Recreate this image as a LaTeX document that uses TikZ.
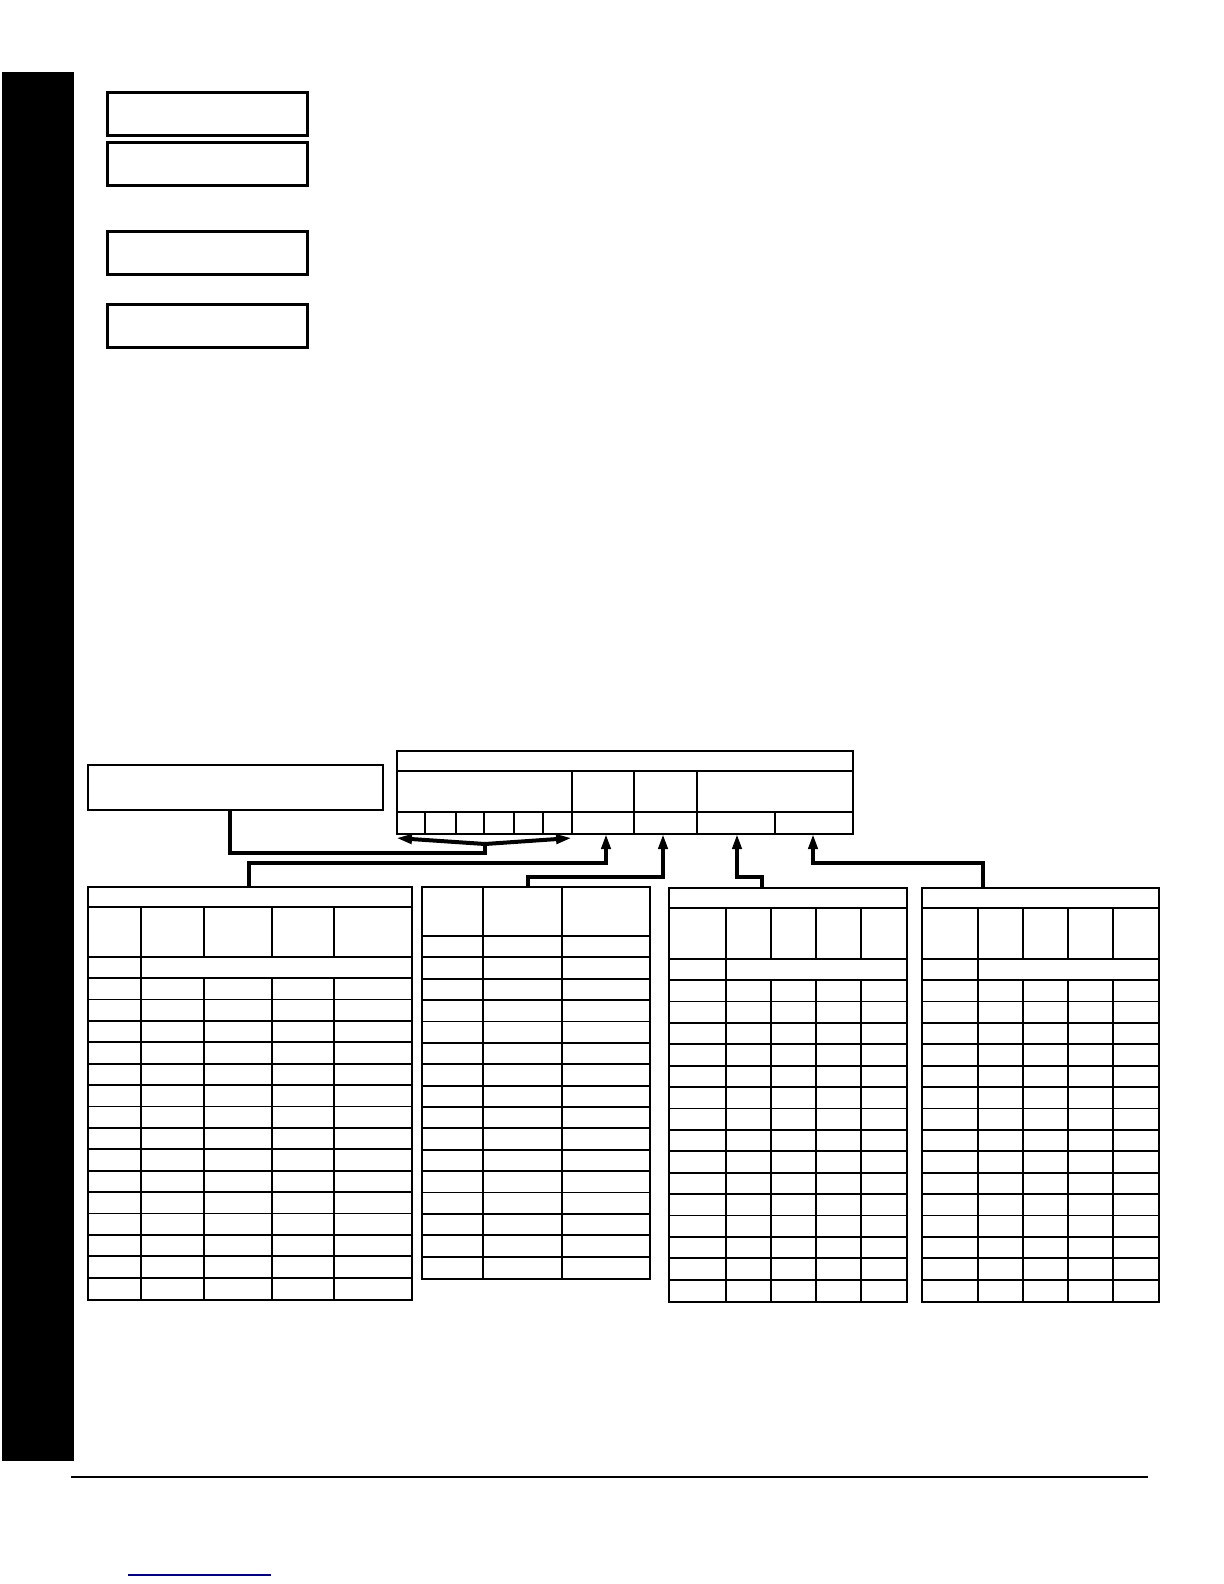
\documentclass[tikz,border=0pt]{standalone}
\usetikzlibrary{arrows.meta}
\begin{document}
\begin{tikzpicture}[x=0.5pt,y=-0.5pt,
  framebox/.style={draw,line width=1.3pt,inner sep=0pt,anchor=north west},
  tbl/.style={draw,line width=0.9pt,inner sep=0pt,anchor=north west},
  grid/.style={line width=0.9pt},
  conn/.style={line width=2pt,line join=miter},
  tip/.style={-{Triangle[length=7.5pt,width=4.5pt]}}]
\useasboundingbox[fill=white] (0,0) rectangle (1224,1584);
% side bar
\fill[black] (2,72) rectangle (74,1461);
% top boxes
\node[framebox,minimum width=100pt,minimum height=21.5pt] (b1) at (106,91) {};
\node[framebox,minimum width=100pt,minimum height=21.5pt] (b2) at (106,141) {};
\node[framebox,minimum width=100pt,minimum height=21.5pt] (b3) at (106,230) {};
\node[framebox,minimum width=100pt,minimum height=21.5pt] (b4) at (106,303) {};
% left box
\node[tbl,minimum width=147.5pt,minimum height=22.5pt] (lb) at (87,764) {};
% top table
\node[tbl,line width=0.8pt,minimum width=228pt,minimum height=41.5pt] (tt) at (396,750) {};
\draw[grid,line width=0.8pt] (396,771) -- (852,771) (396,812) -- (852,812);
\foreach \x in {572,634,697} \draw[grid,line width=0.8pt] (\x,771) -- (\x,833);
\foreach \x in {425,456,484,514,543,775} \draw[grid,line width=0.8pt] (\x,812) -- (\x,833);
% table 1
\node[tbl,minimum width=162pt,minimum height=206.5pt] (t1) at (87,886) {};
\foreach \y in {907,957,978} \draw[grid] (87,\y) -- (411,\y);
\foreach \i in {1,...,14} \draw[grid] (87,978+\i*21.4) -- (411,978+\i*21.4);
\draw[grid] (141,907) -- (141,1299);
\foreach \x in {204,272,334} {\draw[grid] (\x,907) -- (\x,957); \draw[grid] (\x,978) -- (\x,1299);}
% table 2
\node[tbl,minimum width=114pt,minimum height=196pt] (t2) at (421,886) {};
\draw[grid] (421,936) -- (649,936);
\foreach \i in {1,...,15} \draw[grid] (421,936+\i*21.375) -- (649,936+\i*21.375);
\foreach \x in {483,562} \draw[grid] (\x,886) -- (\x,1278);
% table 3
\node[tbl,minimum width=119pt,minimum height=207pt] (t3) at (668,887) {};
\foreach \y in {908,959,980} \draw[grid] (668,\y) -- (906,\y);
\foreach \i in {1,...,14} \draw[grid] (668,980+\i*21.4) -- (906,980+\i*21.4);
\draw[grid] (726,908) -- (726,1301);
\foreach \x in {771,816,861} {\draw[grid] (\x,908) -- (\x,959); \draw[grid] (\x,980) -- (\x,1301);}
% table 4
\node[tbl,minimum width=118.5pt,minimum height=207pt] (t4) at (921,887) {};
\foreach \y in {908,959,980} \draw[grid] (921,\y) -- (1158,\y);
\foreach \i in {1,...,14} \draw[grid] (921,980+\i*21.4) -- (1158,980+\i*21.4);
\draw[grid] (978,908) -- (978,1301);
\foreach \x in {1023,1068,1113} {\draw[grid] (\x,908) -- (\x,959); \draw[grid] (\x,980) -- (\x,1301);}
% arrow targets
\coordinate (aL) at (396,838);
\coordinate (aR) at (572,838);
\coordinate (apex) at (485,844);
\coordinate (a1) at (606,834);
\coordinate (a2) at (663,834);
\coordinate (a3) at (737,834);
\coordinate (a4) at (813,834);
% connectors
\draw[conn,{Triangle[length=8pt,width=4.5pt]}-{Triangle[length=8pt,width=4.5pt]}] (aL) -- (apex) -- (aR);
\draw[conn] (lb.south west -| 230,0) -- (230,853) -- (485,853) -- (apex);
\draw[conn,tip] (t1.north west -| 249,0) -- (249,863) -- (606,863) -- (a1);
\draw[conn,tip] (t2.north west -| 528,0) -- (528,877) -- (663,877) -- (a2);
\draw[conn,tip] (t3.north west -| 762,0) -- (762,877) -- (737,877) -- (a3);
\draw[conn,tip] (t4.north west -| 983,0) -- (983,863) -- (813,863) -- (a4);
% footer
\draw[line width=1.2pt] (71,1477) -- (1148,1477);
\draw[line width=0.6pt,color={rgb,255:red,0;green,0;blue,128}] (128,1575) -- (271,1575);
\end{tikzpicture}
\end{document}
